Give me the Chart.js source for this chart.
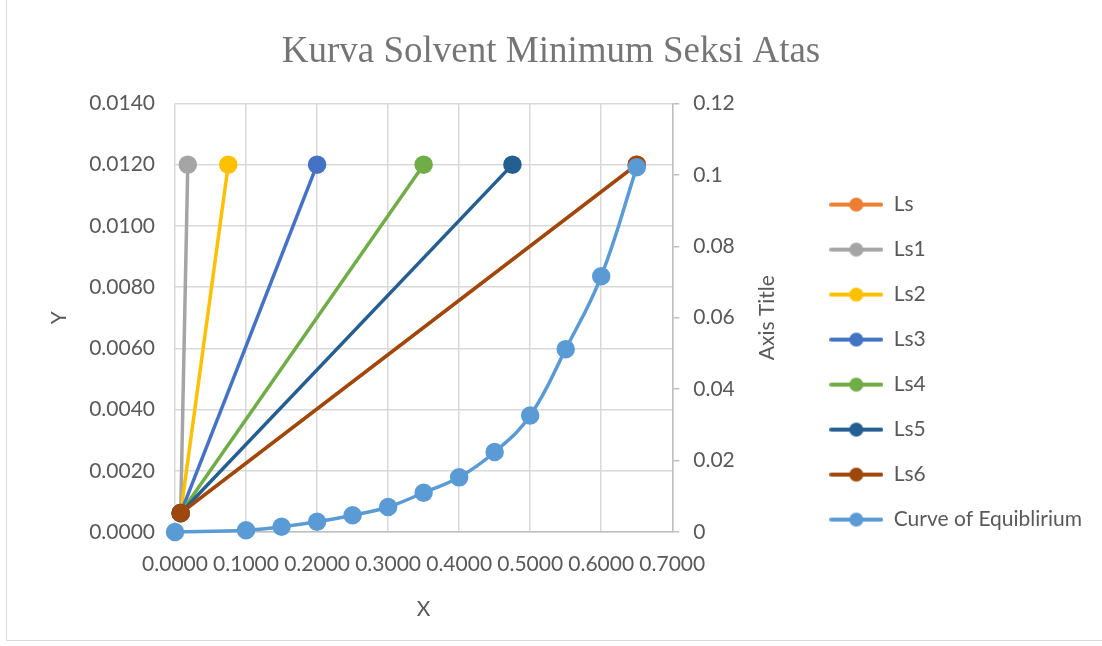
<!DOCTYPE html>
<html>
<head>
<meta charset="utf-8">
<script src="https://cdn.jsdelivr.net/npm/chart.js@4/dist/chart.umd.min.js"></script>
<style>
  html, body { margin: 0; padding: 0; background: #ffffff; }
  #wrap { width: 1102px; height: 646px; }
</style>
</head>
<body>
<div id="wrap"><canvas id="graph_solvent" width="1102" height="646"></canvas></div>
<script>
/*------------------------------*/
/*     DATA                     */
/*------------------------------*/
var seriesNames = ['Ls', 'Ls1', 'Ls2', 'Ls3', 'Ls4', 'Ls5', 'Ls6']
var seriesColors = ['#ED7D31', '#A5A5A5', '#FFC000', '#4472C4', '#70AD47', '#255E91', '#9E480E']

// each Ls line goes from the common start point to its end point
var lsStartX = 0.008
var lsStartY = 0.00062
var lsEndX = [0.65, 0.018, 0.075, 0.2, 0.35, 0.475, 0.65]
var lsEndY = 0.012

// curve of equilibrium (secondary axis)
var curveName = 'Curve of Equiblirium'
var curveColor = '#5B9BD5'
var curveX = [0, 0.1, 0.15, 0.2, 0.25, 0.3, 0.35, 0.4, 0.45, 0.5, 0.55, 0.6, 0.65]
var curveY = [0, 0.0005, 0.00145, 0.00285, 0.0047, 0.007, 0.011, 0.0153, 0.0224, 0.0326, 0.0512, 0.0716, 0.1021]

var y2Title = 'Axis Title'

/*------------------------------*/
/*     STYLE                    */
/*------------------------------*/
var FONT = 'Lato, "Open Sans", sans-serif'
var TXT = '#595959'
var GRID = '#d9d9d9'
var AXIS = '#bfbfbf'

// legend marker: short line with a dot
function legendMarker(color) {
  var c = document.createElement('canvas')
  c.width = 54
  c.height = 16
  var g = c.getContext('2d')
  g.strokeStyle = color
  g.lineWidth = 4
  g.lineCap = 'round'
  g.beginPath()
  g.moveTo(2, 8)
  g.lineTo(52, 8)
  g.stroke()
  g.fillStyle = color
  g.beginPath()
  g.arc(27, 8, 7, 0, Math.PI * 2)
  g.fill()
  return c
}

var datasets = []
for (var i = 0; i < seriesNames.length; i++) {
  datasets.push({
    label: seriesNames[i],
    data: [{x: lsStartX, y: lsStartY}, {x: lsEndX[i], y: lsEndY}],
    showLine: true,
    borderColor: seriesColors[i],
    backgroundColor: seriesColors[i],
    borderWidth: 3.5,
    pointRadius: 7.5,
    pointHoverRadius: 7.5,
    clip: false,
    yAxisID: 'y',
    order: 20 - i
  })
}
datasets.push({
  label: curveName,
  data: curveX.map(function (x, k) { return {x: x, y: curveY[k]} }),
  showLine: true,
  borderColor: curveColor,
  backgroundColor: curveColor,
  borderWidth: 3.5,
  pointRadius: 7.5,
  pointHoverRadius: 7.5,
  tension: 0.4,
  clip: false,
  yAxisID: 'y2',
  order: 0
})

// chart frame + secondary axis title written bottom-to-top (as in Excel)
var extras = {
  id: 'extras',
  afterDraw: function (chart) {
    var c = chart.ctx
    var s = chart.scales.y2
    c.save()
    c.strokeStyle = GRID
    c.lineWidth = 1
    c.beginPath()
    c.moveTo(6.5, 0)
    c.lineTo(6.5, 640.5)
    c.lineTo(1102, 640.5)
    c.stroke()
    c.translate(s.right - 38, (s.top + s.bottom) / 2)
    c.rotate(-Math.PI / 2)
    c.fillStyle = TXT
    c.font = '21px ' + FONT
    c.textAlign = 'center'
    c.textBaseline = 'middle'
    c.fillText(y2Title, 0, 0)
    c.restore()
  }
}

var ctx_solvent = document.getElementById('graph_solvent').getContext('2d')
var config_solvent = {
  type: 'scatter',
  data: { datasets: datasets },
  plugins: [extras],
  options: {
    responsive: false,
    animation: false,
    layout: { padding: { top: 30, left: 10, right: 10, bottom: 20 } },
    plugins: {
      title: {
        display: true,
        text: 'Kurva Solvent Minimum Seksi Atas',
        color: '#757575',
        font: { family: '"Liberation Serif", "Times New Roman", serif', size: 37, weight: 'normal' },
        padding: { top: 0, bottom: 29 }
      },
      legend: {
        position: 'right',
        maxWidth: 320,
        title: { display: true, text: '', padding: { top: 0, bottom: 43 }, font: { size: 21 } },
        labels: {
          usePointStyle: true,
          pointStyleWidth: 54,
          padding: 24,
          color: TXT,
          font: { family: FONT, size: 21 },
          sort: function (a, b) { return a.datasetIndex - b.datasetIndex },
          generateLabels: function (chart) {
            var items = Chart.defaults.plugins.legend.labels.generateLabels(chart)
            items.forEach(function (it) {
              it.pointStyle = legendMarker(chart.data.datasets[it.datasetIndex].borderColor)
            })
            return items
          }
        }
      },
      tooltip: { enabled: false }
    },
    scales: {
      x: {
        type: 'linear',
        min: 0,
        max: 0.7,
        afterFit: function (s) { s.height = 94 },
        ticks: {
          stepSize: 0.1,
          autoSkip: false,
          maxRotation: 0,
          padding: 20,
          color: TXT,
          font: { family: FONT, size: 21 },
          callback: function (v) { return Number(v).toFixed(4) }
        },
        grid: { color: GRID, lineWidth: 1.5, drawTicks: false },
        border: { color: AXIS, width: 1.5 },
        title: { display: true, text: 'X', color: TXT, font: { family: FONT, size: 21 }, padding: { top: 13 } }
      },
      y: {
        type: 'linear',
        position: 'left',
        min: 0,
        max: 0.014,
        afterFit: function (s) { s.width = 165 },
        ticks: {
          stepSize: 0.002,
          padding: 20,
          color: TXT,
          font: { family: FONT, size: 21 },
          callback: function (v) { return Number(v).toFixed(4) }
        },
        grid: { color: GRID, lineWidth: 1.5, drawTicks: false },
        border: { display: false },
        title: { display: true, text: 'Y', color: TXT, font: { family: FONT, size: 21 }, padding: { top: 37 } }
      },
      y2: {
        type: 'linear',
        position: 'right',
        min: 0,
        max: 0.12,
        afterFit: function (s) { s.width = 133 },
        ticks: {
          stepSize: 0.02,
          padding: 14,
          color: TXT,
          font: { family: FONT, size: 21 },
          callback: function (v) { return String(+Number(v).toFixed(2)) }
        },
        grid: { drawOnChartArea: false, drawTicks: true, tickLength: 7, color: AXIS, lineWidth: 1.5 },
        border: { color: AXIS, width: 1.5 },
        title: { display: false }
      }
    }
  }
}
var graph_solvent = new Chart(ctx_solvent, config_solvent)
</script>
</body>
</html>
